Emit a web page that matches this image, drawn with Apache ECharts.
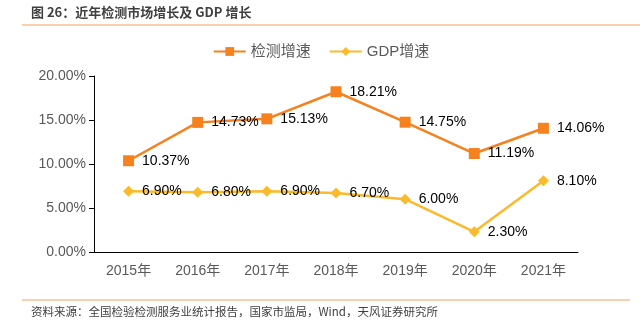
<!DOCTYPE html>
<html><head><meta charset="utf-8">
<script src="https://cdn.jsdelivr.net/npm/echarts@6/dist/echarts.min.js"></script>
<style>html,body{margin:0;padding:0;background:#fff}#c{width:642px;height:329px}</style>
</head><body><div id="c"></div>
<script>
const categories = ['2015年','2016年','2017年','2018年','2019年','2020年','2021年'];
const testingGrowth = [10.37, 14.73, 15.13, 18.21, 14.75, 11.19, 14.06];
const gdpGrowth = [6.90, 6.80, 6.90, 6.70, 6.00, 2.30, 8.10];
const seriesNames = ['检测增速', 'GDP增速'];
const titleText = '图 26：近年检测市场增长及 GDP 增长';
const sourceText = '资料来源：全国检验检测服务业统计报告，国家市监局，Wind，天风证券研究所';

const chart = echarts.init(document.getElementById('c'), null, {renderer: 'canvas'});
const font = '"Liberation Sans", Arial, "Noto Sans CJK SC", sans-serif';
const lbl = {show: true, position: 'right', distance: 8, color: '#000', fontSize: 14, fontFamily: font,
  formatter: p => p.value.toFixed(2) + '%'};
chart.setOption({
  animation: false,
  textStyle: {fontFamily: font},
  graphic: [
    {type: 'text', left: 31, top: 6, style: {text: titleText, fill: '#404040', font: 'bold 13px "Noto Sans CJK SC", sans-serif'}},
    {type: 'line', shape: {x1: 22, y1: 25, x2: 640, y2: 25}, style: {stroke: '#F5A05A', lineWidth: 1}},
    {type: 'line', shape: {x1: 22, y1: 300, x2: 630, y2: 300}, style: {stroke: '#F5A05A', lineWidth: 1}},
    {type: 'text', left: 31, top: 306, style: {text: sourceText, fill: '#404040', font: '11.5px "Noto Sans CJK SC", sans-serif'}}
  ],
  legend: {
    top: 39, left: 'center', itemGap: 18, itemWidth: 32, itemHeight: 11,
    textStyle: {color: '#595959', fontSize: 15, fontFamily: font},
    data: seriesNames
  },
  grid: {left: 94, right: 64, top: 76, bottom: 77},
  xAxis: {
    type: 'category', data: categories, boundaryGap: true,
    axisLine: {lineStyle: {color: '#000', width: 1}},
    axisTick: {show: false},
    axisLabel: {color: '#595959', fontSize: 14, margin: 12, fontFamily: font}
  },
  yAxis: {
    type: 'value', min: 0, max: 20, interval: 5,
    axisLine: {show: true, lineStyle: {color: '#000', width: 1}},
    axisTick: {show: true, length: 5, lineStyle: {color: '#000'}},
    splitLine: {show: false},
    axisLabel: {color: '#595959', fontSize: 14, margin: 8, fontFamily: font, formatter: v => v.toFixed(2) + '%'}
  },
  series: [
    {name: seriesNames[0], type: 'line', data: testingGrowth, symbol: 'rect', symbolSize: 11,
      lineStyle: {color: '#F5821F', width: 2.5}, itemStyle: {color: '#F5821F'}, label: lbl},
    {name: seriesNames[1], type: 'line', data: gdpGrowth, symbol: 'diamond', symbolSize: 11,
      lineStyle: {color: '#FBBA2C', width: 2.5}, itemStyle: {color: '#FBBA2C'}, label: lbl}
  ]
});
</script></body></html>
